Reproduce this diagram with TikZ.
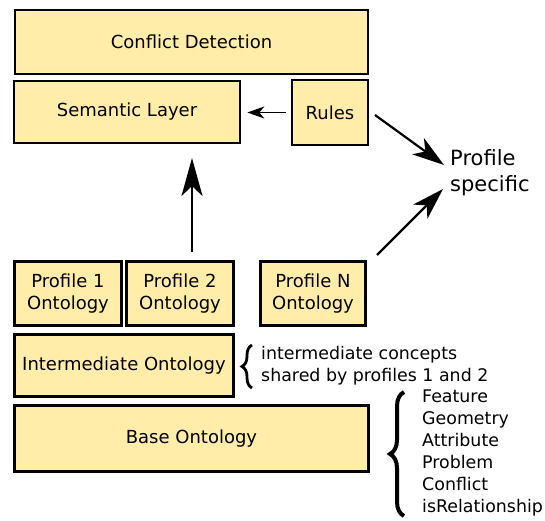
\documentclass[tikz,border=0pt]{standalone}
\usepackage{fontspec}
\setmainfont{DejaVu Sans}
\usetikzlibrary{arrows.meta,decorations.pathreplacing}
\definecolor{boxfill}{HTML}{FFEDA9}
\begin{document}
\begin{tikzpicture}[x=1bp,y=-1bp,
  layer/.style={draw=black, fill=boxfill, line width=2.6bp, inner sep=0pt,
    align=center, font=\fontsize{18bp}{21.5bp}\selectfont},
  note/.style={anchor=west, align=left, inner sep=0pt,
    font=\fontsize{17.4bp}{22bp}\selectfont},
  bigarrow/.style={line width=2.6bp, -{Stealth[length=38bp,width=21bp,inset=10bp]}},
  diagarrow/.style={line width=2.2bp, -{Stealth[length=32bp,width=20bp,inset=9bp]}},
  smallarrow/.style={line width=1.6bp, -{Stealth[length=17bp,width=12bp,inset=5bp]}},
  bracket/.style={decorate, decoration={brace, amplitude=#1}, line width=2.8bp},
]
\useasboundingbox (0,0) rectangle (545,521);

% stack of layers
\node[layer, minimum width=353bp, minimum height=64bp] (conflict) at (191.5,42) {Conflict Detection};
\node[layer, minimum width=226bp, minimum height=62bp] (semantic) at (127,112) {Semantic Layer};
\node[layer, minimum width=76bp, minimum height=65bp] (rules) at (330,112.5) {Rules};
\node[layer, minimum width=107bp, minimum height=64bp] (prof1) at (68,293.5) {Profile 1\\Ontology};
\node[layer, minimum width=107bp, minimum height=64bp] (prof2) at (180,293.5) {Profile 2\\Ontology};
\node[layer, minimum width=105bp, minimum height=64bp] (profN) at (313,293.5) {Profile N\\Ontology};
\node[layer, minimum width=219bp, minimum height=62bp] (inter) at (124,365.5) {Intermediate Ontology};
\node[layer, minimum width=354bp, minimum height=66bp] (base) at (191.5,438.5) {Base Ontology};

% side label
\node[anchor=west, align=left, inner sep=0pt,
  font=\fontsize{21bp}{26bp}\selectfont] (spec) at (450,173) {Profile\\specific};

% annotations with braces
\node[note] (internote) at (261,366) {intermediate concepts\\shared by profiles 1 and 2};
\node[note] (basenote) at (422,453) {Feature\\Geometry\\Attribute\\Problem\\Conflict\\isRelationship};
\draw[bracket=10bp] (252,388) -- (252,345);
\draw[bracket=14bp, line width=4bp] (404,516) -- (404,392);

% connectors
\draw[smallarrow, shorten <=5bp, shorten >=6bp] (rules.west) -- (rules.west -| semantic.east);
\coordinate (upTail) at (192,252);
\coordinate (upTip) at (192,158);
\draw[bigarrow] (upTail) -- (upTip);
\coordinate (rulesOut) at (375,115);
\coordinate (specIn1) at (444,165);
\draw[diagarrow] (rulesOut) -- (specIn1);
\coordinate (profOut) at (377,255);
\coordinate (specIn2) at (443,189);
\draw[diagarrow] (profOut) -- (specIn2);
\end{tikzpicture}
\end{document}
